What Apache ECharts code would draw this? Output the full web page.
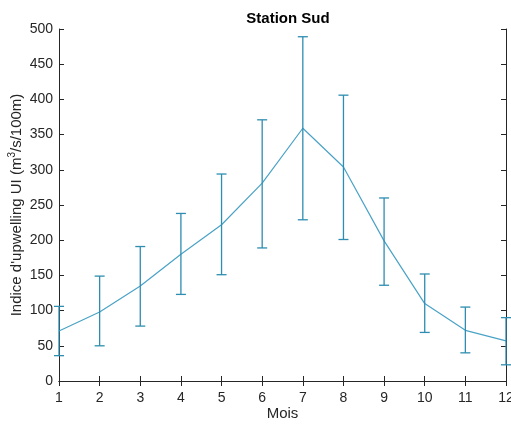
<!DOCTYPE html>
<html><head><meta charset="utf-8">
<script src="https://cdn.jsdelivr.net/npm/echarts@6/dist/echarts.min.js"></script>
<style>html,body{margin:0;padding:0;background:#fff}#c{width:511px;height:424px}</style>
</head><body><div id="c"></div>
<script>
const months = [1,2,3,4,5,6,7,8,9,10,11,12];
const meanUI = [71,98,135,180,222,281,359,304,199,110,72,57];
const upperUI = [106,149,191,238,294,371,489,406,260,152,105,90];
const lowerUI = [36,50,78,123,151,189,229,201,136,69,40,23];
const yTicks = [0,50,100,150,200,250,300,350,400,450,500];

const font = '"Liberation Sans", Arial, sans-serif';
const lineData = months.map((m,i)=>[m, meanUI[i]]);
const errData = months.map((m,i)=>[m, lowerUI[i], upperUI[i]]);

const chart = echarts.init(document.getElementById('c'), null, {renderer:'canvas'});
const axisCol = '#262626';
const txtCol = '#262626';
chart.setOption({
  animation:false,
  title:{text:'Station Sud', left:283, top:6, textAlign:'center',
    textStyle:{fontFamily:font, fontSize:15, fontWeight:'bold', color:'#000'}},
  grid:{left:59, right:5, top:29, bottom:43, containLabel:false, outerBoundsMode:'none'},
  xAxis:[{type:'value', min:1, max:12, interval:1, position:'bottom',
    name:'Mois', nameLocation:'middle', nameGap:25, nameMoveOverlap:false,
    nameTextStyle:{fontFamily:font, fontSize:15, color:txtCol},
    axisLine:{show:true, lineStyle:{color:axisCol, width:1}},
    axisTick:{show:true, inside:true, length:5, lineStyle:{color:axisCol}},
    axisLabel:{fontFamily:font, fontSize:14, color:txtCol, margin:10},
    splitLine:{show:false}},
   {type:'value', min:1, max:12, interval:1, position:'top',
    axisLine:{show:true, lineStyle:{color:axisCol, width:1}},
    axisTick:{show:true, inside:true, length:5, lineStyle:{color:axisCol}},
    axisLabel:{show:false}, splitLine:{show:false}}],
  yAxis:[{type:'value', min:0, max:500, interval:50, position:'left',
    name:'Indice d\'upwelling UI (m{sup|3}/s/100m)', nameLocation:'middle', nameGap:33, nameMoveOverlap:false,
    nameTextStyle:{fontFamily:font, fontSize:15, color:txtCol,
      rich:{sup:{fontFamily:font, fontSize:10, color:txtCol, padding:[0,0,9,0]}}},
    axisLine:{show:true, lineStyle:{color:axisCol, width:1}},
    axisTick:{show:true, inside:true, length:5, lineStyle:{color:axisCol}},
    axisLabel:{fontFamily:font, fontSize:14, color:txtCol, margin:6},
    splitLine:{show:false}},
   {type:'value', min:0, max:500, interval:50, position:'right',
    axisLine:{show:true, lineStyle:{color:axisCol, width:1}},
    axisTick:{show:true, inside:true, length:5, lineStyle:{color:axisCol}},
    axisLabel:{show:false}, splitLine:{show:false}}],
  series:[
    {type:'line', data:lineData, showSymbol:false, symbol:'none',
     lineStyle:{color:'#4aa3c6', width:1.2}, z:3},
    {type:'custom', data:errData, clip:false, z:4,
     renderItem:function(params, api){
       const x = api.value(0);
       const lo = api.coord([x, api.value(1)]);
       const hi = api.coord([x, api.value(2)]);
       const w = 5;
       const st = {stroke:'#2e8db0', lineWidth:1.3};
       return {type:'group', children:[
         {type:'line', shape:{x1:lo[0], y1:lo[1], x2:hi[0], y2:hi[1]}, style:st},
         {type:'line', shape:{x1:lo[0]-w, y1:lo[1], x2:lo[0]+w, y2:lo[1]}, style:st},
         {type:'line', shape:{x1:hi[0]-w, y1:hi[1], x2:hi[0]+w, y2:hi[1]}, style:st}
       ]};
     },
     encode:{x:0, y:[1,2]}}
  ]
});
</script></body></html>
